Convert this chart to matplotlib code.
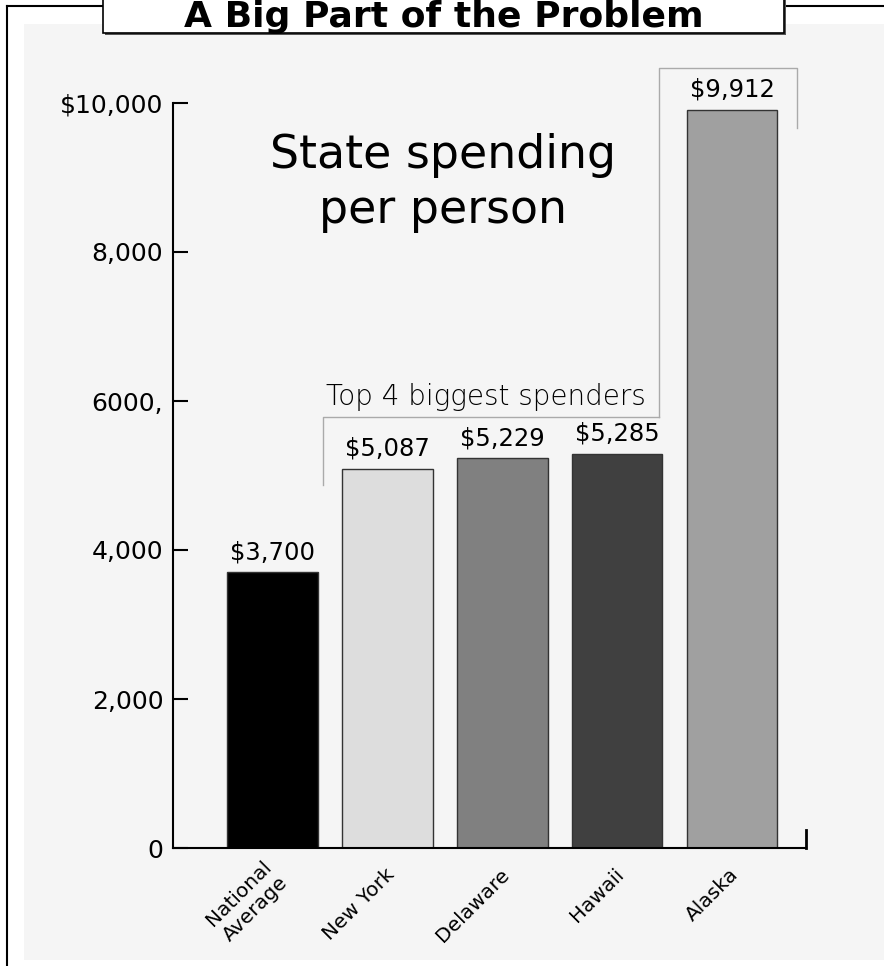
import matplotlib
matplotlib.use("Agg")
import matplotlib.pyplot as plt
import matplotlib.transforms as mtransforms
from matplotlib.patches import Rectangle
from matplotlib.lines import Line2D

# data
states = ["National\nAverage", "New York", "Delaware", "Hawaii", "Alaska"]
spending = [3700, 5087, 5229, 5285, 9912]
value_labels = ["$3,700", "$5,087", "$5,229", "$5,285", "$9,912"]
bar_colors = ["#000000", "#dddddd", "#808080", "#404040", "#a0a0a0"]
yticks = [0, 2000, 4000, 6000, 8000, 10000]
ytick_labels = ["0", "2,000", "4,000", "6000,", "8,000", "$10,000"]

W, H = 884, 966
fig = plt.figure(figsize=(W / 100, H / 100), dpi=100)
fig.patch.set_facecolor("white")

def px(x, y):
    # pixel (from top-left) -> figure fraction
    return x / W, 1 - y / H

# grey panel
x0, y0 = px(24, 960)
fig.add_artist(Rectangle((x0, y0), 1 - x0, (960 - 24) / H, transform=fig.transFigure,
                         facecolor="#f5f5f5", edgecolor="none", zorder=0))

# outer frame
for xs, ys in [((7, 7), (6, 966)), ((7, 103), (6, 6)), ((784, 884), (6, 6))]:
    a = px(xs[0], ys[0])
    b = px(xs[1], ys[1])
    fig.add_artist(Line2D([a[0], b[0]], [a[1], b[1]], transform=fig.transFigure,
                          color="black", lw=1.5, zorder=1))

# title box (with a small shadow)
bx, by = px(105, 35)
fig.add_artist(Rectangle((bx, by), (784 - 103) / W, 45 / H, transform=fig.transFigure,
                         facecolor="#555555", edgecolor="none", zorder=2))
bx, by = px(103, 33)
fig.add_artist(Rectangle((bx, by), (784 - 103) / W, 45 / H, transform=fig.transFigure,
                         facecolor="white", edgecolor="black", lw=1.2, zorder=2))
tx, ty = px(444, 27)
fig.text(tx, ty, "A Big Part of the Problem", ha="center", va="baseline",
         fontsize=26, fontweight="bold", family="DejaVu Sans", zorder=3)

ax = fig.add_axes([173 / W, (H - 848) / H, (806 - 173) / W, (848 - 103) / H])
ax.set_facecolor("none")

x = list(range(len(states)))
ax.bar(x, spending, width=0.79, color=bar_colors, edgecolor="#333333", linewidth=1, zorder=2)

for i, v in enumerate(spending):
    ax.annotate(value_labels[i], (x[i], v), xytext=(0, 6), textcoords="offset points",
                ha="center", va="bottom", fontsize=17.5, family="DejaVu Sans")

ax.set_xlim(-0.868, 4.645)
ax.set_ylim(0, 10000)
ax.set_yticks(yticks)
ax.set_yticklabels(ytick_labels, fontsize=18, family="DejaVu Sans")
ax.tick_params(axis="y", direction="in", length=11, width=1.5, pad=7)
ax.set_xticks(x)
ax.set_xticklabels(states, rotation=45, ha="right", va="center", rotation_mode="anchor",
                   fontsize=14.5, family="DejaVu Sans", color="black")
ax.tick_params(axis="x", length=0, pad=17)
shift = mtransforms.ScaledTranslation(4 / 100, 0, fig.dpi_scale_trans)
for lab in ax.get_xticklabels():
    lab.set_transform(lab.get_transform() + shift)

for s in ["top", "right"]:
    ax.spines[s].set_visible(False)
for s in ["left", "bottom"]:
    ax.spines[s].set_linewidth(1.5)

# little end tick at the right of the x axis
ax.plot([1, 1], [0, 0.024], transform=ax.transAxes, color="black", lw=2, clip_on=False)

# bracket for the top 4
top4_y = max(spending[1:4]) + 500
ax.plot([0.438, 0.438, 3.366], [spending[1] - 215, top4_y, top4_y], color="#aaaaaa",
        lw=1, clip_on=False, zorder=1)
ax.text(0.465, top4_y + 160, "Top 4 biggest spenders", ha="left", va="baseline",
        fontsize=20, fontweight="light", family="DejaVu Sans")

# box around Alaska
al_y = spending[4] + 560
ax.plot([3.366, 3.366, 4.567, 4.567], [top4_y, al_y, al_y, spending[4] - 250],
        color="#aaaaaa", lw=1, clip_on=False, zorder=1)

cx, cy = px(443, 183)
fig.text(cx, cy, "State spending\nper person", ha="center", va="center", fontsize=33,
         family="DejaVu Sans", linespacing=1.3)

fig.savefig("out.png", dpi=100)
